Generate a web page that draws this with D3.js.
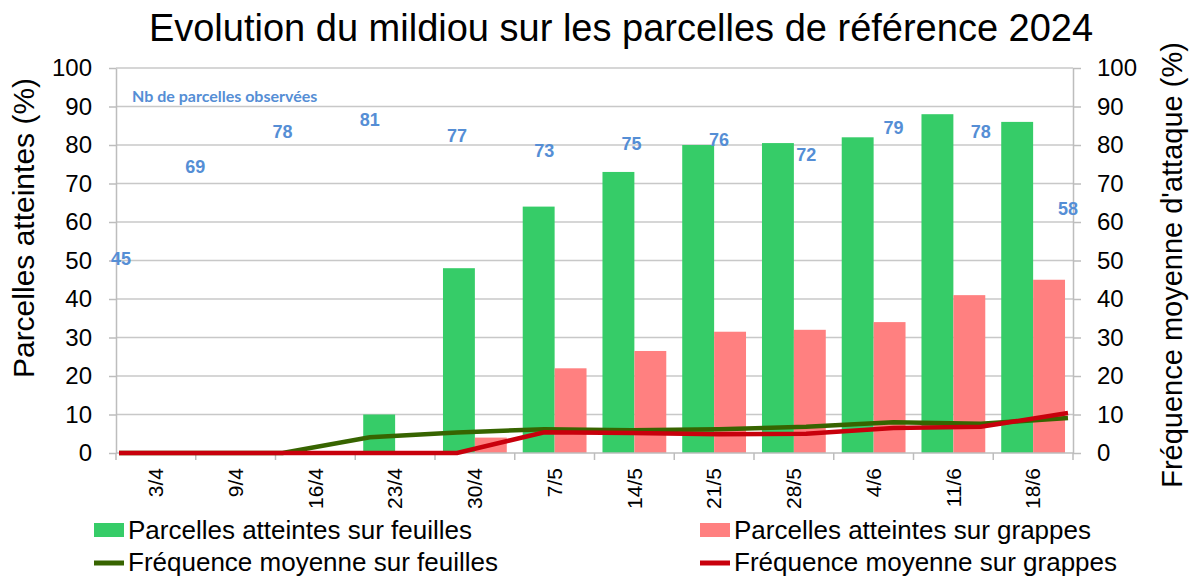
<!DOCTYPE html>
<html>
<head>
<meta charset="utf-8">
<script src="https://cdn.jsdelivr.net/npm/d3@7"></script>
<style>
body { margin: 0; background: #fff; }
text { font-family: "Liberation Sans", Arial, sans-serif; fill: #000; }
</style>
</head>
<body>
<script>
// data
var dates = ["3/4", "9/4", "16/4", "23/4", "30/4", "7/5", "14/5", "21/5", "28/5", "4/6", "11/6", "18/6"];
var feuilles = [0, 0, 0, 10, 48, 64, 73, 80, 80.5, 82, 88, 86];
var grappes = [0, 0, 0, 0, 4, 22, 26.5, 31.5, 32, 34, 41, 45];
var freqFeuilles = [0, 0, 0, 4.1, 5.3, 6.2, 5.9, 6.2, 6.8, 8.0, 7.6, 9.1];
var freqGrappes = [0, 0, 0, 0, 0, 5.4, 5.2, 4.9, 5.0, 6.5, 6.8, 10.4];
var nbParcelles = [45, 69, 78, 81, 77, 73, 75, 76, 72, 79, 78, 58];
var yTicks = [0, 10, 20, 30, 40, 50, 60, 70, 80, 90, 100];

var margin = {top: 68, right: 120, bottom: 125, left: 116};
var width = 1193 - margin.left - margin.right,
    height = 578 - margin.top - margin.bottom;

var green = "#36cc68", pink = "#ff8080", darkGreen = "#376400", red = "#c8000c", blue = "#558ed5";
var gridColor = "#c8c8c8";

var svg = d3.select("body")
    .append("svg")
    .attr("width", 1193)
    .attr("height", 578);

var g = svg.append("g")
    .attr("transform", "translate(" + margin.left + "," + margin.top + ")");

// scales
var x = d3.scaleBand()
    .domain(dates)
    .range([0, width]);

var xSub = d3.scaleBand()
    .domain(["feuilles", "grappes"])
    .range([x.bandwidth() * 0.1, x.bandwidth() * 0.9]);

// the lines sit on a secondary category axis (points on the edges)
var xLine = d3.scalePoint()
    .domain(dates)
    .range([-8, width - 5]);

var y = d3.scaleLinear()
    .domain([0, 100])
    .range([height, 0]);

// gridlines
g.append("g")
    .selectAll("line")
    .data(yTicks.slice(1))
    .enter().append("line")
    .attr("x1", 0)
    .attr("x2", width)
    .attr("y1", function(d) { return y(d); })
    .attr("y2", function(d) { return y(d); })
    .style("stroke", gridColor)
    .style("stroke-width", 1.5);

// bars
var groups = g.append("g")
    .selectAll("g")
    .data(dates)
    .enter().append("g")
    .attr("transform", function(d) { return "translate(" + x(d) + ",0)"; });

groups.append("rect")
    .attr("x", xSub("feuilles"))
    .attr("width", xSub.bandwidth())
    .attr("y", function(d, i) { return y(feuilles[i]); })
    .attr("height", function(d, i) { return height - y(feuilles[i]); })
    .style("fill", green);

groups.append("rect")
    .attr("x", xSub("grappes"))
    .attr("width", xSub.bandwidth())
    .attr("y", function(d, i) { return y(grappes[i]); })
    .attr("height", function(d, i) { return height - y(grappes[i]); })
    .style("fill", pink);

// left axis
var left = g.append("g")
    .call(d3.axisLeft(y).tickValues(yTicks).tickSize(7).tickSizeOuter(0).tickPadding(17));
left.selectAll("text").style("font-size", "24px");

// right axis
var right = g.append("g")
    .attr("transform", "translate(" + width + ",0)")
    .call(d3.axisRight(y).tickValues(yTicks).tickSize(8).tickSizeOuter(0).tickPadding(16));
right.selectAll("text").style("font-size", "24px");

g.selectAll(".domain, .tick line").style("stroke", "#bdbdbd").style("stroke-width", 1.5);

// x axis: baseline, ticks between categories, rotated labels
g.append("line")
    .attr("x1", 0).attr("x2", width)
    .attr("y1", height).attr("y2", height)
    .style("stroke", "#bdbdbd")
    .style("stroke-width", 1.5);

g.append("g")
    .selectAll("line")
    .data(d3.range(dates.length + 1))
    .enter().append("line")
    .attr("x1", function(i) { return i * x.step(); })
    .attr("x2", function(i) { return i * x.step(); })
    .attr("y1", height)
    .attr("y2", height + 7)
    .style("stroke", "#bdbdbd")
    .style("stroke-width", 1.5);

g.append("g")
    .selectAll("text")
    .data(dates)
    .enter().append("text")
    .attr("transform", function(d) {
        return "translate(" + (x(d) + x.bandwidth() / 2) + "," + (height + 15) + ") rotate(-90)";
    })
    .attr("dy", "0.35em")
    .style("text-anchor", "end")
    .style("font-size", "21px")
    .text(function(d) { return d; });

// frequency lines
svg.append("clipPath")
    .attr("id", "plot-clip")
    .append("rect")
    .attr("x", 3).attr("y", -10)
    .attr("width", width - 3).attr("height", height + 20);

var line = d3.line()
    .x(function(d, i) { return xLine(dates[i]); })
    .y(function(d) { return y(d); });

g.append("path")
    .datum(freqFeuilles)
    .attr("clip-path", "url(#plot-clip)")
    .attr("d", line)
    .style("fill", "none")
    .style("stroke", darkGreen)
    .style("stroke-width", 4.5);

g.append("path")
    .datum(freqGrappes)
    .attr("clip-path", "url(#plot-clip)")
    .attr("d", line)
    .style("fill", "none")
    .style("stroke", red)
    .style("stroke-width", 4.5);

// number of observed plots
g.append("text")
    .attr("x", 16)
    .attr("y", 34)
    .style("font-family", "Lato, sans-serif")
    .style("font-weight", "bold")
    .style("font-size", "16px")
    .style("fill", blue)
    .text("Nb de parcelles observées");

g.append("g")
    .selectAll("text")
    .data(nbParcelles)
    .enter().append("text")
    .attr("x", function(d, i) { return Math.max(xLine(dates[i]), 5); })
    .attr("y", function(d) { return y(d) - 21; })
    .attr("dy", "0.35em")
    .style("text-anchor", "middle")
    .style("font-weight", "bold")
    .style("font-size", "18px")
    .style("fill", blue)
    .text(function(d) { return d; });

// title
svg.append("text")
    .attr("x", 621)
    .attr("y", 41)
    .style("text-anchor", "middle")
    .style("font-size", "38px")
    .text("Evolution du mildiou sur les parcelles de référence 2024");

// axis titles
svg.append("text")
    .attr("transform", "translate(34," + (margin.top + 160) + ") rotate(-90)")
    .style("text-anchor", "middle")
    .style("font-size", "30px")
    .text("Parcelles atteintes (%)");

svg.append("text")
    .attr("transform", "translate(1182," + (margin.top + 197) + ") rotate(-90)")
    .style("text-anchor", "middle")
    .style("font-size", "29px")
    .text("Fréquence moyenne d'attaque (%)");

// legend
var legendItems = [
    {label: "Parcelles atteintes sur feuilles", color: green, type: "rect", col: 0, row: 0},
    {label: "Parcelles atteintes sur grappes", color: pink, type: "rect", col: 1, row: 0},
    {label: "Fréquence moyenne sur feuilles", color: darkGreen, type: "line", col: 0, row: 1},
    {label: "Fréquence moyenne sur grappes", color: red, type: "line", col: 1, row: 1}
];

var legend = svg.append("g")
    .selectAll("g")
    .data(legendItems)
    .enter().append("g")
    .attr("transform", function(d) {
        return "translate(" + (d.col ? 700 : 94) + "," + (d.row ? 562 : 530) + ")";
    });

legend.filter(function(d) { return d.type == "rect"; })
    .append("rect")
    .attr("x", 0).attr("y", -7)
    .attr("width", 30).attr("height", 14)
    .style("fill", function(d) { return d.color; });

legend.filter(function(d) { return d.type == "line"; })
    .append("line")
    .attr("x1", 0).attr("x2", 30)
    .attr("y1", 1).attr("y2", 1)
    .style("stroke", function(d) { return d.color; })
    .style("stroke-width", 5);

legend.append("text")
    .attr("x", 34)
    .attr("dy", "0.35em")
    .style("font-size", "26px")
    .text(function(d) { return d.label; });
</script>
</body>
</html>
